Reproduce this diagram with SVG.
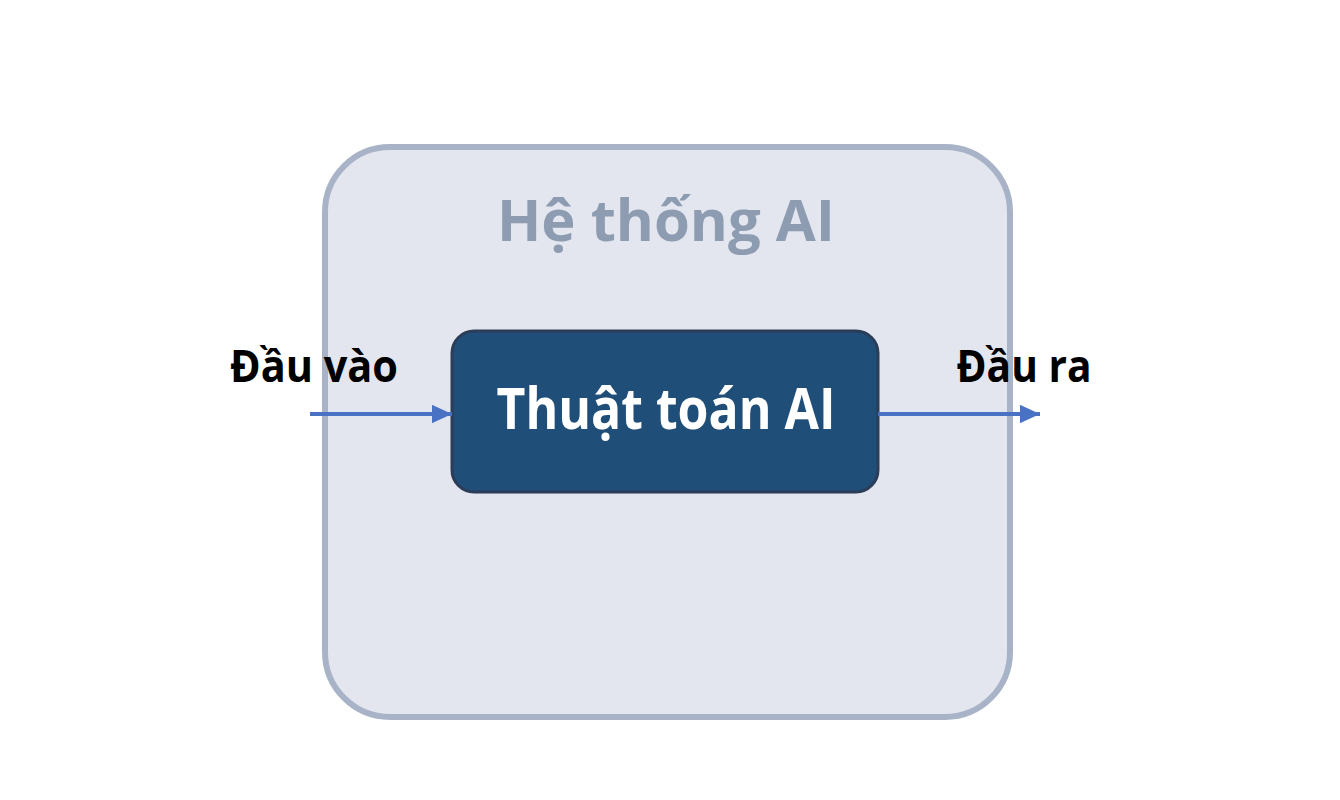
<svg xmlns="http://www.w3.org/2000/svg" width="1340" height="800" viewBox="0 0 1340 800">
<style>
.lbl{font-family:"Open Sans","Noto Sans","DejaVu Sans",sans-serif;font-weight:bold}
</style>
<defs>
<marker id="ah" viewBox="0 0 10 10" refX="10" refY="5" markerWidth="5" markerHeight="4.6" orient="auto" markerUnits="strokeWidth" preserveAspectRatio="none">
<path d="M0,0 L10,5 L0,10 z" fill="#4a72c4"/>
</marker>
</defs>
<rect width="1340" height="800" fill="#ffffff"/>
<g id="system">
<rect x="325" y="147" width="685" height="570" rx="65" fill="#e3e6ee" stroke="#a9b3c7" stroke-width="6"/>
<text class="lbl" x="666" y="241" text-anchor="middle" font-size="58" fill="#8e9cb2" textLength="338" lengthAdjust="spacingAndGlyphs">Hệ thống AI</text>
</g>
<g id="algorithm">
<rect x="452" y="331" width="426" height="161" rx="22" fill="#1f4e79" stroke="#2b3d57" stroke-width="3"/>
<text class="lbl" x="666" y="429" text-anchor="middle" font-size="58" fill="#ffffff" textLength="339" lengthAdjust="spacingAndGlyphs">Thuật toán AI</text>
</g>
<g id="input">
<text class="lbl" x="314" y="382" text-anchor="middle" font-size="44" fill="#000000" textLength="168" lengthAdjust="spacingAndGlyphs">Đầu vào</text>
</g>
<g id="output">
<text class="lbl" x="1024" y="382" text-anchor="middle" font-size="44" fill="#000000" textLength="135" lengthAdjust="spacingAndGlyphs">Đầu ra</text>
</g>
<g id="connectors" stroke="#4a72c4" stroke-width="4" fill="none">
<line x1="310" y1="414" x2="452" y2="414" marker-end="url(#ah)"/>
<line x1="878" y1="414" x2="1040" y2="414" marker-end="url(#ah)"/>
</g>
</svg>
